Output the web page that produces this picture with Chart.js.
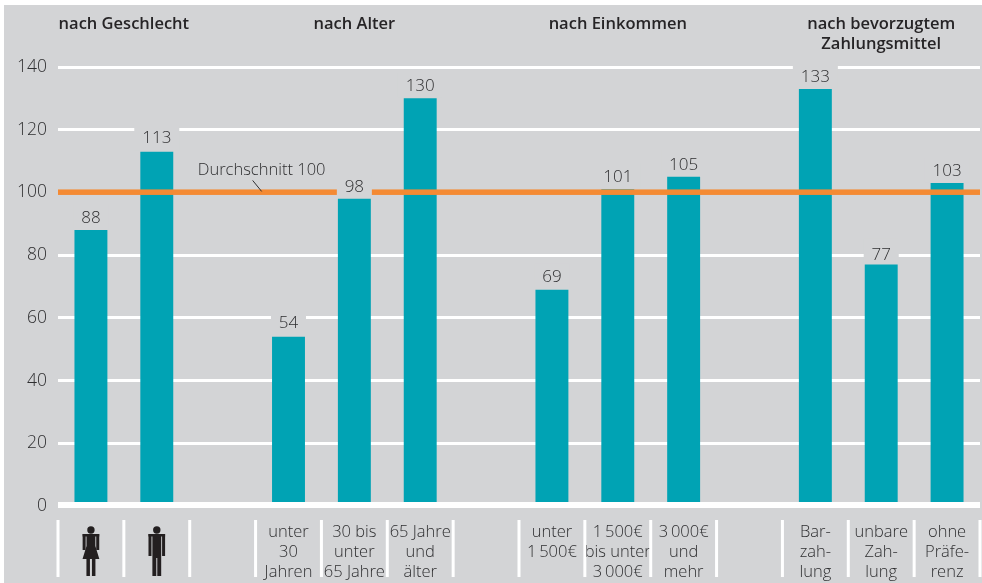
<!DOCTYPE html>
<html>
<head>
<meta charset="utf-8">
<script src="https://cdn.jsdelivr.net/npm/chart.js@4"></script>
<style>
  html, body { margin: 0; padding: 0; background: #fff; overflow: hidden; }
  #panel { position: absolute; left: 4px; top: 5px; width: 978px; height: 578px; background: #d3d4d6; }
  #wrap { position: absolute; left: 0; top: 0; width: 982px; height: 583px; }
</style>
</head>
<body>
<div id="panel"></div>
<div id="wrap"><canvas id="myChart"></canvas></div>
<script>
var categories = [
  ["", "", ""], ["", "", ""], "",
  ["unter", "30", "Jahren"], ["30 bis", "unter", "65 Jahre"], ["65 Jahre", "und", "älter"], "",
  ["unter", "1\u2009500€", ""], ["1\u2009500€", "bis unter", "3\u2009000€"], ["3\u2009000€", "und", "mehr"], "",
  ["Bar-", "zah-", "lung"], ["unbare", "Zah-", "lung"], ["ohne", "Präfe-", "renz"]
];
var values = [88, 113, null, 54, 98, 130, null, 69, 101, 105, null, 133, 77, 103];
var yTicks = [0, 20, 40, 60, 80, 100, 120, 140];
var average = 100;
var averageLabel = "Durchschnitt 100";
var groupTitles = [
  { lines: ["nach Geschlecht"], from: 0, to: 1 },
  { lines: ["nach Alter"], from: 3, to: 5 },
  { lines: ["nach Einkommen"], from: 7, to: 9 },
  { lines: ["nach bevorzugtem", "Zahlungsmittel"], from: 11, to: 13 }
];

var FONT = '"Open Sans", sans-serif';
var PANEL = '#d3d4d6';
var TEXT = '#2e2e30';
// a few value labels sit a little off the usual distance in the original
var labelShift = { 113: -2, 54: -2, 77: 3 };

function drawPerson(ctx, cx, female) {
  ctx.fillStyle = '#231f20';
  ctx.beginPath();
  ctx.arc(cx, 530, 3.7, 0, Math.PI * 2);
  ctx.fill();
  // shoulders and arms
  var armEnd = female ? 550 : 556;
  ctx.fillRect(cx - 8.3, 534, 16.6, 2.5);
  ctx.fillRect(cx - 8.3, 534, 3, armEnd - 534);
  ctx.fillRect(cx + 5.3, 534, 3, armEnd - 534);
  if (female) {
    ctx.beginPath();
    ctx.moveTo(cx - 4.4, 534);
    ctx.lineTo(cx + 4.4, 534);
    ctx.lineTo(cx + 4.4, 546);
    ctx.lineTo(cx + 8.4, 559);
    ctx.lineTo(cx - 8.4, 559);
    ctx.lineTo(cx - 4.4, 546);
    ctx.closePath();
    ctx.fill();
    ctx.fillRect(cx - 4.5, 559, 3.5, 17);
    ctx.fillRect(cx + 1, 559, 3.5, 17);
  } else {
    ctx.fillRect(cx - 4.4, 534, 8.8, 24);
    ctx.fillRect(cx - 4.4, 558, 3.9, 18);
    ctx.fillRect(cx + 0.5, 558, 3.9, 18);
  }
}

var overlayPlugin = {
  id: 'overlay',
  afterDatasetsDraw: function (chart) {
    var ctx = chart.ctx, x = chart.scales.x, y = chart.scales.y, area = chart.chartArea;
    var slot = x.width / categories.length;
    ctx.save();

    // zero line sits over the bar feet
    ctx.fillStyle = '#fff';
    ctx.fillRect(area.left, y.getPixelForValue(0) - 4, area.width, 6);

    // average line
    var avgY = y.getPixelForValue(average);
    ctx.fillStyle = '#f48a33';
    ctx.fillRect(area.left, avgY - 3, area.width, 5.5);

    // value labels with a patch that cuts the lines behind them
    ctx.textAlign = 'center';
    ctx.textBaseline = 'middle';
    ctx.font = '300 17px ' + FONT;
    values.forEach(function (v, i) {
      if (v === null) return;
      var cx = x.getPixelForValue(i), top = y.getPixelForValue(v);
      var w = String(v).length > 2 ? 45 : 35;
      ctx.fillStyle = PANEL;
      ctx.fillRect(cx - w / 2, top - 26, w, 25);
      ctx.fillStyle = TEXT;
      ctx.fillText(String(v), cx, top - 12 + (labelShift[v] || 0));
    });

    // average caption and its leader
    var labelX = x.getPixelForValue(2) + 39;
    ctx.font = '300 16.5px ' + FONT;
    ctx.fillText(averageLabel, labelX, avgY - 22);
    ctx.strokeStyle = TEXT;
    ctx.lineWidth = 1;
    ctx.beginPath();
    ctx.moveTo(labelX - 9, avgY - 12);
    ctx.lineTo(labelX, avgY - 1);
    ctx.stroke();

    // group titles
    ctx.font = '600 16.5px ' + FONT;
    ctx.fillStyle = '#262426';
    groupTitles.forEach(function (g) {
      var cx = (x.getPixelForValue(g.from) + x.getPixelForValue(g.to)) / 2;
      g.lines.forEach(function (line, n) {
        ctx.fillText(line, cx, 24 + n * 20);
      });
    });

    // separators between the category cells
    ctx.fillStyle = '#fff';
    for (var i = 0; i <= categories.length; i++) {
      ctx.fillRect(area.left + i * slot - 1.5, 520, 3, 57);
    }

    // gender pictograms
    drawPerson(ctx, x.getPixelForValue(0), true);
    drawPerson(ctx, x.getPixelForValue(1), false);
    ctx.restore();
  }
};

var myChart = new Chart(document.getElementById("myChart"), {
  type: 'bar',
  data: {
    labels: categories,
    datasets: [
      {
        data: values,
        backgroundColor: '#00a3b4',
        barPercentage: 0.5,
        categoryPercentage: 1
      }
    ]
  },
  options: {
    responsive: true,
    maintainAspectRatio: false,
    animation: false,
    layout: { padding: { top: 67, right: 2 } },
    plugins: {
      legend: { display: false },
      tooltip: { enabled: false }
    },
    scales: {
      x: {
        grid: { display: false, drawTicks: false },
        border: { display: false },
        afterFit: function (scale) {
          scale.height = 77;
          // keep the last label from pulling the chart area in
          scale.paddingLeft = 0;
          scale.paddingRight = 0;
        },
        ticks: {
          autoSkip: false,
          maxRotation: 0,
          minRotation: 0,
          padding: 16,
          color: TEXT,
          font: { family: FONT, size: 16.5, weight: '300', lineHeight: 1.21 }
        }
      },
      y: {
        min: 0,
        max: 140,
        afterFit: function (scale) { scale.width = 58; },
        afterBuildTicks: function (scale) {
          scale.ticks = yTicks.map(function (v) { return { value: v }; });
        },
        grid: {
          color: '#fff',
          lineWidth: 3,
          drawTicks: false
        },
        border: { display: false },
        ticks: {
          padding: 11,
          color: TEXT,
          font: { family: FONT, size: 17.5, weight: '300' }
        }
      }
    }
  },
  plugins: [overlayPlugin]
});
</script>
</body>
</html>
